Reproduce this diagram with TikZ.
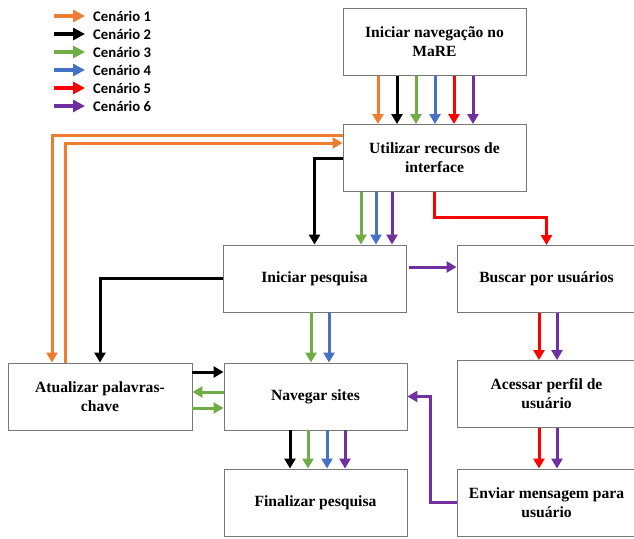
\documentclass[tikz,border=0pt]{standalone}
\usepackage{fontspec}
\setmainfont{Liberation Serif}
\newfontfamily\legfont{Carlito}
\usetikzlibrary{arrows.meta}
\definecolor{laranja}{RGB}{237,125,49}
\definecolor{verde}{RGB}{112,173,71}
\definecolor{azul}{RGB}{68,114,196}
\definecolor{vermelho}{RGB}{255,0,0}
\definecolor{roxo}{RGB}{112,48,160}
\definecolor{borda}{RGB}{120,120,120}

\begin{document}
\begin{tikzpicture}[x=1pt,y=-1pt,
    caixa/.style={draw=borda, line width=0.9pt, minimum width=183pt, minimum height=67pt,
      align=center, inner sep=2pt, font=\fontsize{15.6}{19}\selectfont\bfseries},
    seta/.style={line width=3pt, -{Triangle[length=10pt,width=11pt]}},
    legenda/.style={anchor=west, inner sep=0pt, font=\legfont\fontsize{14.7}{17}\selectfont\bfseries}]
    \useasboundingbox (0,0) rectangle (634,538);

    % legend
    \foreach \c [count=\i] in {laranja,black,verde,azul,vermelho,roxo} {
        \node[legenda] (leg\i) at (93,{-2+18*\i}) {Cenário \i};
        \draw[seta, \c, line width=4pt, -{Triangle[length=12pt,width=12pt]}] (54,{-2+18*\i}) -- ([xshift=-8pt]leg\i.west);
    }

    % boxes
    \node[caixa] (ini) at (434.5,42) {Iniciar navegação no\\MaRE};
    \node[caixa] (util) at (434.5,158) {Utilizar recursos de\\interface};
    \node[caixa] (pesq) at (314.5,278.5) {Iniciar pesquisa};
    \node[caixa, minimum width=179pt] (busc) at (546.5,279) {Buscar por usuários};
    \node[caixa, minimum width=179pt] (aces) at (546.5,394) {Acessar perfil de\\usuário};
    \node[caixa, minimum width=179pt] (envi) at (546.5,502.5) {Enviar mensagem para\\usuário};
    \node[caixa, minimum width=184pt] (atua) at (100,396.5) {Atualizar palavras-\\chave};
    \node[caixa] (nave) at (315.5,396.5) {Navegar sites};
    \node[caixa] (fina) at (315.5,502.5) {Finalizar pesquisa};

    % all scenarios start here
    \foreach \c [count=\i] in {laranja,black,verde,azul,vermelho,roxo}
        \draw[seta, \c] ([xshift={-75.5+19*\i}]ini.south) -- ([xshift={-75.5+19*\i}]util.north);

    % scenario 1
    \draw[seta, laranja] ([yshift=23pt]util.west) -| ([xshift=-48pt]atua.north);
    \draw[seta, laranja] ([xshift=-35pt]atua.north) |- ([yshift=15pt]util.west);

    % scenario 2
    \draw[seta] (util.west) -| (pesq.north);
    \draw[seta] (pesq.west) -| (atua.north);
    \draw[seta] ([yshift=24.5pt]atua.east) -- ([yshift=24.5pt]atua.east -| nave.west);
    \draw[seta] ([xshift=-25.5pt]nave.south) -- ([xshift=-25.5pt]fina.north);

    % scenarios 3 and 4
    \draw[seta, verde] ([xshift=-73.5pt]util.south) -- ([xshift=-73.5pt]util.south |- pesq.north);
    \draw[seta, azul] ([xshift=-58.5pt]util.south) -- ([xshift=-58.5pt]util.south |- pesq.north);
    \draw[seta, verde] ([xshift=-3.5pt]pesq.south) -- ([xshift=-3.5pt]pesq.south |- nave.north);
    \draw[seta, azul] ([xshift=14.5pt]pesq.south) -- ([xshift=14.5pt]pesq.south |- nave.north);
    \draw[seta, verde] ([yshift=4.5pt]nave.west) -- ([yshift=4.5pt]nave.west -| atua.east);
    \draw[seta, verde] ([yshift=-11.5pt]atua.east) -- ([yshift=-11.5pt]atua.east -| nave.west);
    \draw[seta, verde] ([xshift=-7.5pt]nave.south) -- ([xshift=-7.5pt]fina.north);
    \draw[seta, azul] ([xshift=11.5pt]nave.south) -- ([xshift=11.5pt]fina.north);

    % scenario 5
    \draw[seta, vermelho] (util.south) -- ++(0,26) -| (busc.north);
    \draw[seta, vermelho] ([xshift=-7.5pt]busc.south) -- ([xshift=-7.5pt]aces.north);
    \draw[seta, vermelho] ([xshift=-7.5pt]aces.south) -- ([xshift=-7.5pt]envi.north);

    % scenario 6
    \draw[seta, roxo] ([xshift=-42.5pt]util.south) -- ([xshift=-42.5pt]util.south |- pesq.north);
    \draw[seta, roxo, shorten <=3pt] ([yshift=11.5pt]pesq.east) -- ([yshift=11.5pt]pesq.east -| busc.west);
    \draw[seta, roxo] ([xshift=10.5pt]busc.south) -- ([xshift=10.5pt]aces.north);
    \draw[seta, roxo] ([xshift=10.5pt]aces.south) -- ([xshift=10.5pt]envi.north);
    \draw[seta, roxo] (envi.west) -- ++(-26,0) |- (nave.east);
    \draw[seta, roxo] ([xshift=29.5pt]nave.south) -- ([xshift=29.5pt]fina.north);

\end{tikzpicture}
\end{document}
